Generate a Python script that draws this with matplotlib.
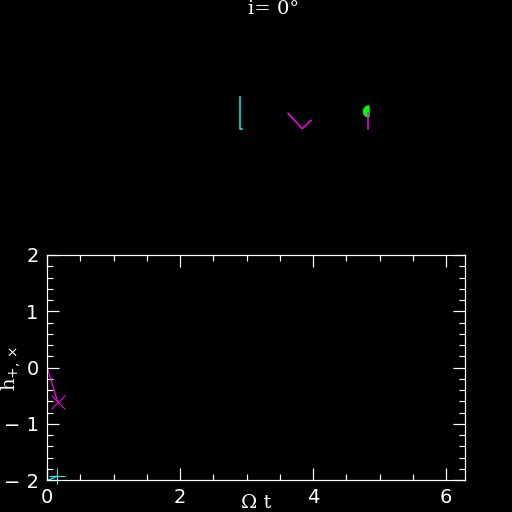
import matplotlib
matplotlib.use('Agg')
import matplotlib.pyplot as plt
from matplotlib.ticker import MultipleLocator
import numpy as np

# time series shown in the lower panel
t_plus = [0.0, 0.04, 0.08, 0.12, 0.16]
h_plus = [0.0, -0.14, -0.30, -0.46, -0.61]
t_cross = [0.0, 0.05, 0.10, 0.15]
h_cross = [-2.0, -1.99, -1.96, -1.93]

# little sketches in the upper part (figure pixel units)
cyan_bar_x = [240.3, 240.3, 242.0]
cyan_bar_y = [96.7, 128.7, 128.7]
vee_x = [288.0, 302.3, 311.0]
vee_y = [113.3, 128.7, 120.3]
stick_x = [368.3, 368.3]
stick_y = [113.0, 129.0]
blob_x, blob_y, blob_r = 369.0, 111.5, 5.5

px = 72.0 / 100.0  # one pixel in points

fig = plt.figure(figsize=(5.12, 5.12), dpi=100, facecolor='black')

# upper overlay in pixel coordinates
top = fig.add_axes([0, 0, 1, 1])
top.set_xlim(0, 512)
top.set_ylim(512, 0)
top.axis('off')
top.patch.set_alpha(0)
top.plot(cyan_bar_x, cyan_bar_y, color='cyan', lw=1.5 * px)
top.plot(vee_x, vee_y, color='magenta', lw=1.5 * px)
top.plot(stick_x, stick_y, color='magenta', lw=1.5 * px)
top.add_patch(matplotlib.patches.Wedge((blob_x, blob_y), blob_r, 90, 270,
                                       color='#00ff00'))
top.text(274, 14, 'i= 0°', color='white', ha='center', va='baseline',
         fontsize=14, family='DejaVu Serif')
top.text(256, 503, 'Ω t', color='white', ha='center', va='center',
         fontsize=14, family='DejaVu Serif')
top.text(11, 368, 'h$_{+,\\times}$', color='white', ha='center', va='center',
         fontsize=14, family='DejaVu Serif', rotation=90)

# lower panel
ax = fig.add_axes([47 / 512, 32 / 512, 418 / 512, 225 / 512])
ax.set_facecolor('black')
ax.plot(t_plus, h_plus, color='magenta', lw=1.2 * px)
ax.plot(t_plus[-1], h_plus[-1], marker='x', color='magenta', ms=9.5,
        mew=1 * px, clip_on=False)
ax.plot(t_cross, h_cross, color='cyan', lw=1.2 * px)
ax.plot(t_cross[-1], h_cross[-1], marker='+', color='cyan', ms=12,
        mew=1 * px, clip_on=False)

ax.set_xlim(0, 2 * np.pi)
ax.set_ylim(-2, 2)
ax.xaxis.set_major_locator(MultipleLocator(2))
ax.xaxis.set_minor_locator(MultipleLocator(0.5))
ax.yaxis.set_major_locator(MultipleLocator(1))
ax.yaxis.set_minor_locator(MultipleLocator(0.2))
ax.yaxis.set_major_formatter(
    matplotlib.ticker.FuncFormatter(lambda v, p: ('\u2212 %d' % -v) if v < 0 else '%d' % v))
for s in ax.spines.values():
    s.set_color('white')
    s.set_linewidth(1.2 * px)
ax.tick_params(which='both', direction='in', top=True, right=True,
               colors='white', width=1.2 * px, labelsize=14)
ax.tick_params(which='major', length=12 * px, pad=6)
ax.tick_params(which='minor', length=6 * px)

fig.savefig('out.png', dpi=100, facecolor='black')
